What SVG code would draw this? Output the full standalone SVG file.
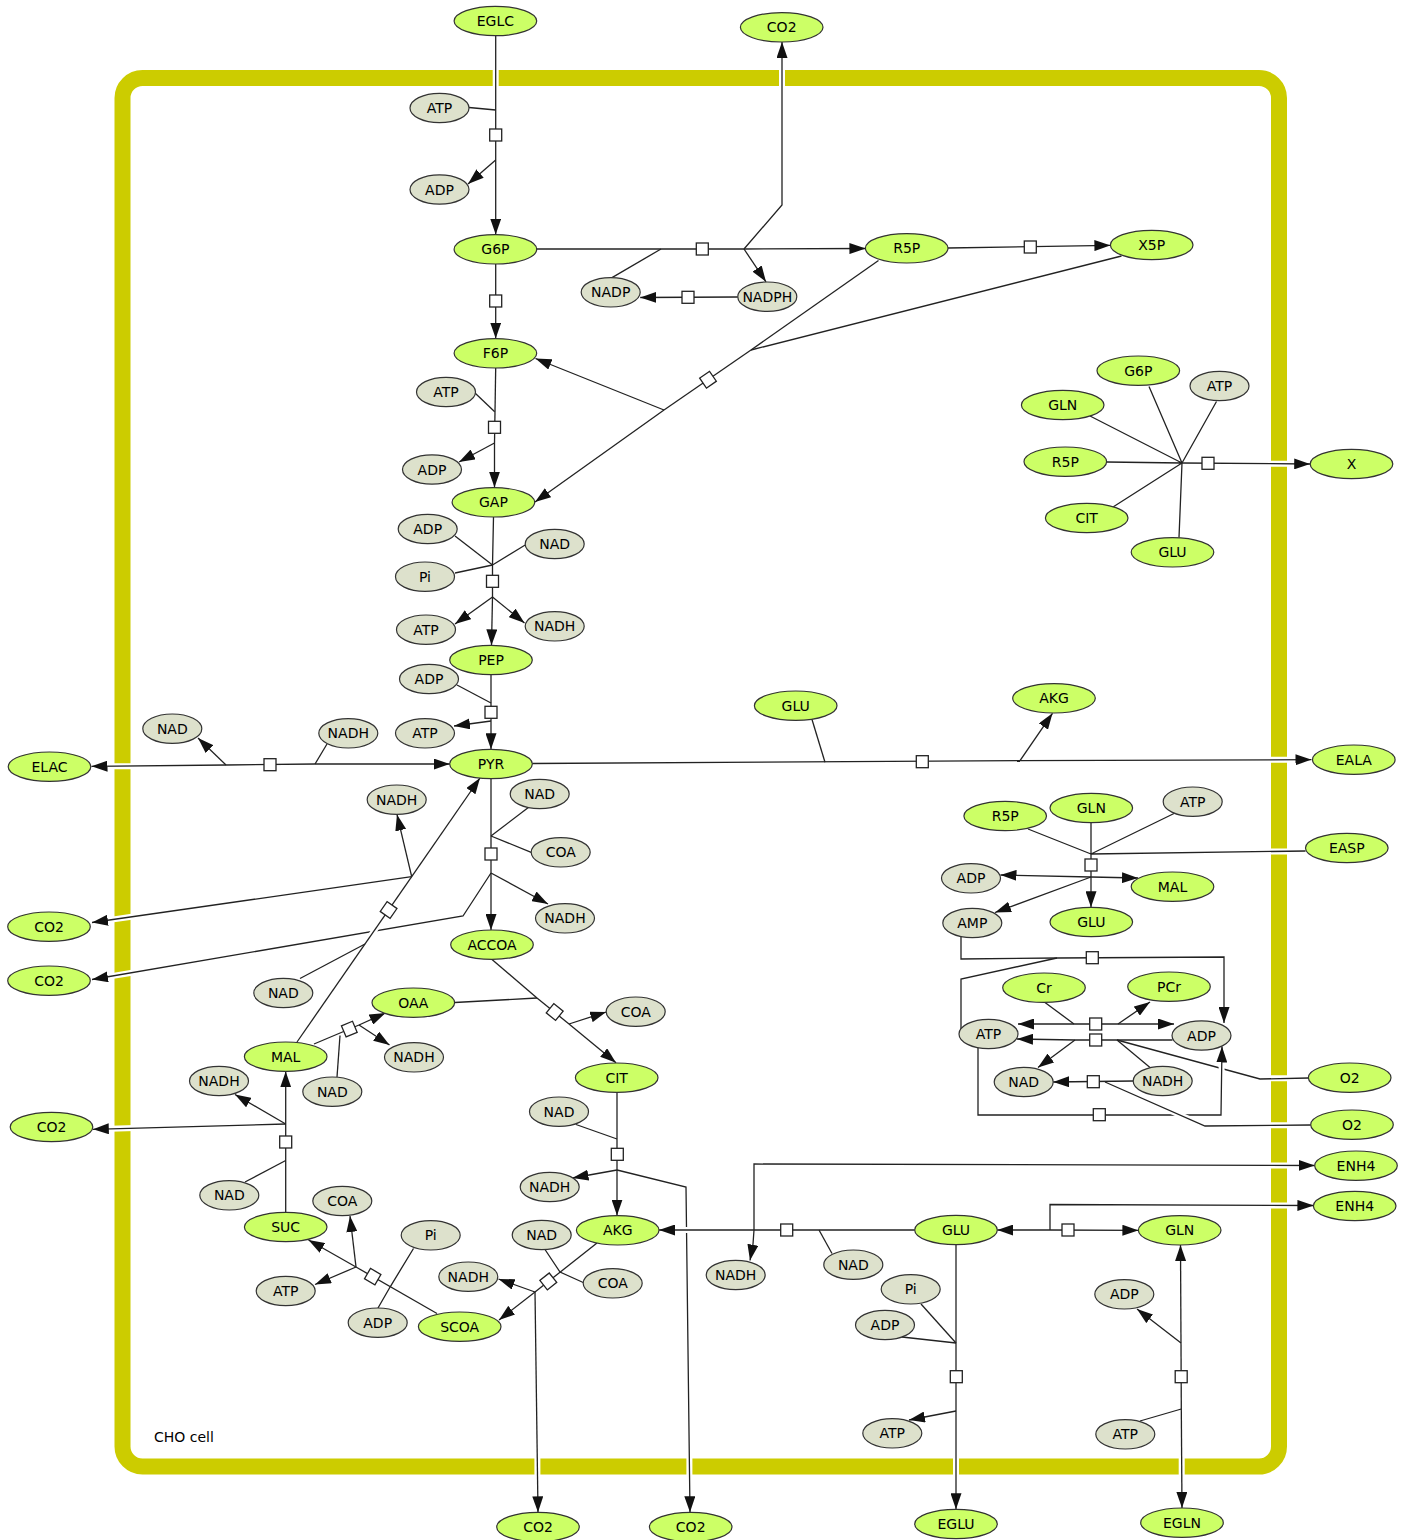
<svg xmlns="http://www.w3.org/2000/svg" width="1407" height="1540" viewBox="0 0 1407 1540">
<style>
.cmp{fill:none;stroke:#cccc00;stroke-width:16}
.e{fill:none;stroke:#222;stroke-width:1.3}
.a{marker-end:url(#arr)}
.h{fill:none;stroke:#fff;stroke-width:6}
.g ellipse{fill:#ccff66;stroke:#333;stroke-width:1.2}
.s ellipse{fill:#dde1cc;stroke:#333;stroke-width:1.2}
.pn rect{fill:#fff;stroke:#222;stroke-width:1.3}
text{font-family:"DejaVu Sans","Liberation Sans",sans-serif;font-size:14px;text-anchor:middle;fill:#000}
.lbl{text-anchor:start}
</style>
<defs>
<marker id="arr" markerUnits="userSpaceOnUse" markerWidth="16" markerHeight="11" refX="16" refY="5.5" orient="auto"><path d="M0,0 L16,5.5 L0,11 z" fill="#111"/></marker>
</defs>
<g id="compartment">
<rect class="cmp" x="122.5" y="78" width="1156.5" height="1388.5" rx="20" ry="20"/>
<text class="lbl" x="154" y="1442">CHO cell</text>
</g>
<g id="border-gaps">
<path class="h" d="M495.7,66 V90 M782,66 V90 M110,766.2 H135 M110,919.9 L135,916.3 M110,976.4 L135,972.2 M110,1128.8 L135,1128.1 M1267,463.7 H1291 M1267,759.8 H1291 M1267,851.4 H1291 M1267,1078.3 H1291 M1267,1125.3 H1291 M1267,1165.4 H1291 M1267,1205.4 H1291 M537.4,1454 V1479 M689.4,1454 V1479 M956,1454 V1479 M1181.7,1454 V1479"/>
</g>
<g id="connectors">
<!-- EGLC -> G6P -->
<path class="e" d="M495.7,35.7 V160"/>
<path class="e" d="M469,107.5 L495.7,110"/>
<path class="e a" d="M495.7,160 L468,184"/>
<path class="e a" d="M495.7,160 V234.6"/>
<!-- G6P -> F6P -->
<path class="e a" d="M495.7,264 V338.6"/>
<!-- F6P -> GAP -->
<path class="e" d="M495.7,368 L494.5,443"/>
<path class="e" d="M475,393 L494.7,411.7"/>
<path class="e a" d="M494.5,443 L459,462"/>
<path class="e a" d="M494.5,443 V487.6"/>
<!-- GAP -> PEP -->
<path class="e" d="M493.5,517 L492.5,565 V597"/>
<path class="e" d="M455,536 L492.5,565"/>
<path class="e" d="M455,573 L492.5,565"/>
<path class="e" d="M525.2,545 L492.5,565"/>
<path class="e a" d="M492.5,597 L455,624"/>
<path class="e a" d="M492.5,597 L524.5,623"/>
<path class="e a" d="M492.5,597 L491.5,645.3"/>
<!-- PEP -> PYR -->
<path class="e" d="M491,674.7 V721"/>
<path class="e" d="M457,685 L491,703"/>
<path class="e a" d="M491,721 L454,726"/>
<path class="e a" d="M491,721 V749.3"/>
<!-- PYR <-> ELAC -->
<path class="e a" d="M315,764 L449.7,764"/>
<path class="e" d="M327,744 L315,764"/>
<path class="e" d="M226,765 L315,764"/>
<path class="e a" d="M226,765 L198,738"/>
<path class="e a" d="M226,765 L91.5,766.3"/>
<!-- PYR -> EALA -->
<path class="e" d="M532.3,763.5 L1020,760.7"/>
<path class="e" d="M812,719.5 L825,762.3"/>
<path class="e a" d="M1020,760.7 L1052.5,713.3"/>
<path class="e a" d="M1020,760.7 L1311.5,759.7"/>
<!-- PYR -> ACCOA -->
<path class="e" d="M491,778.7 V873"/>
<path class="e" d="M529,807 L491,836"/>
<path class="e" d="M531.2,852.3 L491,836"/>
<path class="e a" d="M491,873 L548,904"/>
<path class="e a" d="M491,873 V930"/>
<path class="e a" d="M491,873 L463,916 L92,979.5"/>
<!-- G6P -> R5P -->
<path class="e" d="M536.7,249 L744,249"/>
<path class="e" d="M612,277.6 L661,249"/>
<path class="e a" d="M744,249 L865.4,248.5"/>
<path class="e a" d="M744,249 L766,281.8"/>
<path class="e a" d="M744,249 L782,205 L782,42"/>
<!-- NADPH -> NADP -->
<path class="e a" d="M737.8,297 L640.2,297.5"/>
<!-- R5P -> X5P -->
<path class="e a" d="M948,248 L1110.4,245.3"/>
<!-- transketolase -->
<path class="e" d="M878.5,260.5 L751,350"/>
<path class="e" d="M1121.5,256 L751,350"/>
<path class="e" d="M751,350 L664,410"/>
<path class="e a" d="M664,410 L535.5,358.5"/>
<path class="e a" d="M664,410 L535,502"/>
<!-- biomass -->
<path class="e" d="M1090,416 L1182,463 M1149,386.5 L1182,463 M1216.5,401.5 L1182,463 M1106.6,462 L1182,463 M1113,507 L1182,463 M1179,537.6 L1182,463"/>
<path class="e a" d="M1182,463 L1310.2,464"/>
<!-- GLN + R5P + ATP + EASP -->
<path class="e" d="M1028,829 L1091,854 M1091,822.7 L1091,854 M1174,813.5 L1091,854 M1305.5,851 L1091,854"/>
<path class="e" d="M1091,854 V877"/>
<path class="e a" d="M1091,877 L1000.5,875"/>
<path class="e a" d="M1091,877 L1138,878"/>
<path class="e a" d="M1091,877 V907.3"/>
<path class="e a" d="M1091,877 L995,912.5"/>
<!-- AMP + ATP -> ADP -->
<path class="e" d="M961,936.7 V959 L1057,958"/>
<path class="e" d="M961,1029 V979 L1057,958"/>
<path class="e a" d="M1057,958 L1224,957 L1224,1023"/>
<!-- Cr + ATP <-> PCr + ADP -->
<path class="e" d="M1045,1002.4 L1074,1024"/>
<path class="e" d="M1074,1024 L1118,1024"/>
<path class="e a" d="M1074,1024 L1018,1024"/>
<path class="e a" d="M1118,1024 L1174,1024"/>
<path class="e a" d="M1118,1024 L1150,1002"/>
<!-- oxidative phosphorylation -->
<path class="e" d="M1172.5,1040 L1075,1040"/>
<path class="e" d="M1150,1067.5 L1117,1040"/>
<path class="e a" d="M1075,1040 L1017,1039"/>
<path class="e a" d="M1075,1040 L1038,1067.5"/>
<path class="e" d="M1117,1040 L1260,1079 L1308.4,1078"/>
<path class="h" d="M1221.6,1058 V1080"/>
<!-- ATP -> ADP -->
<path class="e a" d="M978,1047.7 V1115 L1221,1115 L1222,1046.5"/>
<path class="h" d="M1170,1110.6 L1190,1119.4"/>
<!-- NADH -> NAD -->
<path class="e a" d="M1133.2,1081 L1053.2,1082"/>
<path class="e" d="M1105,1082 L1205,1126 L1310.7,1125"/>
<!-- GLN <-> GLU + ENH4 -->
<path class="e a" d="M1050,1230 L1138.4,1230.3"/>
<path class="e a" d="M1050,1230 L997.3,1230"/>
<path class="e a" d="M1050,1230 V1204.5 L1313.4,1205.5"/>
<!-- CIT -> AKG -->
<path class="e" d="M617,1092.4 V1170"/>
<path class="e" d="M576,1124.5 L617,1139"/>
<path class="e a" d="M617,1170 L572.5,1178"/>
<path class="e a" d="M617,1170 V1215.6"/>
<path class="e a" d="M617,1170 L686,1187 L690,1512.3"/>
<!-- GLU -> AKG -->
<path class="e" d="M914.7,1230 L754,1230"/>
<path class="e" d="M832,1253.5 L819,1230"/>
<path class="e a" d="M754,1230 L753,1244 L750,1260.5"/>
<path class="e a" d="M754,1230 V1164 L1314.7,1165.5"/>
<path class="h" d="M676,1230 H697"/>
<path class="e a" d="M754,1230 L659,1230"/>
<!-- AKG -> SCOA -->
<path class="e" d="M597,1243 L535,1292"/>
<path class="e" d="M545,1249.5 L560,1272 L583.2,1282.5"/>
<path class="e a" d="M535,1292 L498.5,1279"/>
<path class="e a" d="M535,1292 L499,1320"/>
<path class="e a" d="M535,1292 L538,1512.3"/>
<!-- SCOA -> SUC -->
<path class="e" d="M437,1313.5 L356,1267"/>
<path class="e" d="M413.5,1248.5 L390.5,1286.3 L378,1308"/>
<path class="e a" d="M356,1267 L308.5,1240"/>
<path class="e a" d="M356,1267 L350,1216"/>
<path class="e a" d="M356,1267 L315,1284.5"/>
<!-- SUC -> MAL -->
<path class="e" d="M285.7,1212.3 V1124"/>
<path class="e" d="M245,1182 L285.7,1160.5"/>
<path class="e a" d="M285.7,1124 L235,1094.5"/>
<path class="e a" d="M285.7,1124 V1071.4"/>
<path class="e a" d="M285.7,1124 L92.8,1129.3"/>
<!-- MAL -> OAA -->
<path class="e" d="M314,1044 L359,1025"/>
<path class="e" d="M337,1077 L340,1035.5"/>
<path class="e a" d="M359,1025 L385.5,1013"/>
<path class="e a" d="M359,1025 L389.5,1045"/>
<!-- ACCOA + OAA -> CIT -->
<path class="e" d="M492,959.4 L537,998"/>
<path class="e" d="M454.6,1002.5 L537,998"/>
<path class="e" d="M537,998 L569,1024"/>
<path class="e a" d="M569,1024 L606.2,1012"/>
<path class="e a" d="M569,1024 L616,1062.8"/>
<!-- GLU -> EGLU -->
<path class="e" d="M956,1244.7 V1411"/>
<path class="e" d="M921,1304 L956,1343"/>
<path class="e" d="M902,1337 L956,1343"/>
<path class="e a" d="M956,1411 L909,1420"/>
<path class="e a" d="M956,1411 V1509.3"/>
<!-- GLN <-> EGLN -->
<path class="e a" d="M1181,1343 L1180.5,1245"/>
<path class="e a" d="M1181,1343 L1137,1309"/>
<path class="e" d="M1181,1343 L1181.3,1409"/>
<path class="e" d="M1140,1421 L1181.3,1409"/>
<path class="e a" d="M1181.3,1409 L1182,1508"/>
<!-- malic enzyme -->
<path class="e" d="M300,978.5 L365,944"/>
<path class="e a" d="M411.7,876.7 L397,814.6"/>
<path class="e a" d="M411.7,876.7 L92,922.5"/>
<path class="h" d="M367.7,940.1 L380.2,922"/>
<path class="e" d="M297,1042 L411.7,876.7"/>
<path class="e a" d="M411.7,876.7 L480,778"/>
</g>
<g id="processes" class="pn">
<g id="p1"><rect x="489.7" y="129" width="12" height="12"/></g>
<g id="p2"><rect x="489.7" y="295" width="12" height="12"/></g>
<g id="p3"><rect x="488.5" y="421.3" width="12" height="12"/></g>
<g id="p4"><rect x="486.5" y="575.3" width="12" height="12"/></g>
<g id="p5"><rect x="485" y="706.3" width="12" height="12"/></g>
<g id="p6"><rect x="264" y="758.7" width="12" height="12"/></g>
<g id="p7"><rect x="916.3" y="755.7" width="12" height="12"/></g>
<g id="p8"><rect x="485" y="848" width="12" height="12"/></g>
<g id="p9"><rect x="696.3" y="243" width="12" height="12"/></g>
<g id="p10"><rect x="682" y="291.3" width="12" height="12"/></g>
<g id="p11"><rect x="1024.3" y="241" width="12" height="12"/></g>
<g id="p12"><rect x="-6" y="-6" width="12" height="12" transform="translate(708,379.7) rotate(-34.6)"/></g>
<g id="p13"><rect x="1202" y="457.3" width="12" height="12"/></g>
<g id="p14"><rect x="1085" y="859" width="12" height="12"/></g>
<g id="p15"><rect x="1086.3" y="951.7" width="12" height="12"/></g>
<g id="p16"><rect x="1089.7" y="1018" width="12" height="12"/></g>
<g id="p17"><rect x="1089.7" y="1034" width="12" height="12"/></g>
<g id="p18"><rect x="1087.3" y="1075.7" width="12" height="12"/></g>
<g id="p19"><rect x="1093.3" y="1108.7" width="12" height="12"/></g>
<g id="p20"><rect x="1062" y="1224" width="12" height="12"/></g>
<g id="p21"><rect x="780.7" y="1224" width="12" height="12"/></g>
<g id="p22"><rect x="611.3" y="1148.3" width="12" height="12"/></g>
<g id="p23"><rect x="-6" y="-6" width="12" height="12" transform="translate(548.3,1281.4) rotate(-38.7)"/></g>
<g id="p24"><rect x="-6" y="-6" width="12" height="12" transform="translate(372.7,1276.6) rotate(29.9)"/></g>
<g id="p25"><rect x="279.7" y="1136" width="12" height="12"/></g>
<g id="p26"><rect x="-6" y="-6" width="12" height="12" transform="translate(349.3,1029.1) rotate(-22.9)"/></g>
<g id="p27"><rect x="-6" y="-6" width="12" height="12" transform="translate(388.6,910) rotate(-55.2)"/></g>
<g id="p28"><rect x="-6" y="-6" width="12" height="12" transform="translate(554.7,1012) rotate(39.1)"/></g>
<g id="p29"><rect x="950.3" y="1370.7" width="12" height="12"/></g>
<g id="p30"><rect x="1175.2" y="1370.7" width="12" height="12"/></g>
</g>
<g id="nodes">
<g id="EGLC" class="g"><ellipse cx="495.4" cy="21" rx="41.3" ry="14.7"/><text x="495.4" y="26">EGLC</text></g>
<g id="CO2_top" class="g"><ellipse cx="781.7" cy="27.3" rx="41.3" ry="14.7"/><text x="781.7" y="32.3">CO2</text></g>
<g id="ATP_1" class="s"><ellipse cx="439.5" cy="108" rx="29.5" ry="14.7"/><text x="439.5" y="113">ATP</text></g>
<g id="ADP_1" class="s"><ellipse cx="439.5" cy="189.5" rx="29.5" ry="14.7"/><text x="439.5" y="194.5">ADP</text></g>
<g id="G6P" class="g"><ellipse cx="495.4" cy="249.3" rx="41.3" ry="14.7"/><text x="495.4" y="254.3">G6P</text></g>
<g id="NADP" class="s"><ellipse cx="610.7" cy="292.3" rx="29.5" ry="14.7"/><text x="610.7" y="297.3">NADP</text></g>
<g id="NADPH" class="s"><ellipse cx="767.3" cy="296.7" rx="29.5" ry="14.7"/><text x="767.3" y="301.7">NADPH</text></g>
<g id="R5P" class="g"><ellipse cx="906.7" cy="248.3" rx="41.3" ry="14.7"/><text x="906.7" y="253.3">R5P</text></g>
<g id="X5P" class="g"><ellipse cx="1151.7" cy="245" rx="41.3" ry="14.7"/><text x="1151.7" y="250">X5P</text></g>
<g id="F6P" class="g"><ellipse cx="495.4" cy="353.3" rx="41.3" ry="14.7"/><text x="495.4" y="358.3">F6P</text></g>
<g id="ATP_2" class="s"><ellipse cx="446" cy="392" rx="29.5" ry="14.7"/><text x="446" y="397">ATP</text></g>
<g id="ADP_2" class="s"><ellipse cx="432" cy="469.5" rx="29.5" ry="14.7"/><text x="432" y="474.5">ADP</text></g>
<g id="GAP" class="g"><ellipse cx="493.4" cy="502.3" rx="41.3" ry="14.7"/><text x="493.4" y="507.3">GAP</text></g>
<g id="ADP_3" class="s"><ellipse cx="427.7" cy="529" rx="29.5" ry="14.7"/><text x="427.7" y="534">ADP</text></g>
<g id="NAD_1" class="s"><ellipse cx="554.7" cy="544" rx="29.5" ry="14.7"/><text x="554.7" y="549">NAD</text></g>
<g id="Pi_1" class="s"><ellipse cx="425" cy="576.7" rx="29.5" ry="14.7"/><text x="425" y="581.7">Pi</text></g>
<g id="ATP_3" class="s"><ellipse cx="426" cy="629.7" rx="29.5" ry="14.7"/><text x="426" y="634.7">ATP</text></g>
<g id="NADH_1" class="s"><ellipse cx="554.7" cy="626.3" rx="29.5" ry="14.7"/><text x="554.7" y="631.3">NADH</text></g>
<g id="PEP" class="g"><ellipse cx="491" cy="660" rx="41.3" ry="14.7"/><text x="491" y="665">PEP</text></g>
<g id="ADP_4" class="s"><ellipse cx="429" cy="679" rx="29.5" ry="14.7"/><text x="429" y="684">ADP</text></g>
<g id="ATP_4" class="s"><ellipse cx="425" cy="733.3" rx="29.5" ry="14.7"/><text x="425" y="738.3">ATP</text></g>
<g id="PYR" class="g"><ellipse cx="491" cy="764" rx="41.3" ry="14.7"/><text x="491" y="769">PYR</text></g>
<g id="NAD_2" class="s"><ellipse cx="172.3" cy="728.7" rx="29.5" ry="14.7"/><text x="172.3" y="733.7">NAD</text></g>
<g id="NADH_2" class="s"><ellipse cx="348.3" cy="733.3" rx="29.5" ry="14.7"/><text x="348.3" y="738.3">NADH</text></g>
<g id="ELAC" class="g"><ellipse cx="49.5" cy="766.7" rx="41.3" ry="14.7"/><text x="49.5" y="771.7">ELAC</text></g>
<g id="GLU_1" class="g"><ellipse cx="795.7" cy="705.7" rx="41.3" ry="14.7"/><text x="795.7" y="710.7">GLU</text></g>
<g id="AKG_1" class="g"><ellipse cx="1054" cy="698.3" rx="41.3" ry="14.7"/><text x="1054" y="703.3">AKG</text></g>
<g id="EALA" class="g"><ellipse cx="1353.8" cy="759.7" rx="41.3" ry="14.7"/><text x="1353.8" y="764.7">EALA</text></g>
<g id="NADH_3" class="s"><ellipse cx="396.7" cy="799.7" rx="29.5" ry="14.7"/><text x="396.7" y="804.7">NADH</text></g>
<g id="NAD_3" class="s"><ellipse cx="539.7" cy="794" rx="29.5" ry="14.7"/><text x="539.7" y="799">NAD</text></g>
<g id="COA_1" class="s"><ellipse cx="560.7" cy="852.3" rx="29.5" ry="14.7"/><text x="560.7" y="857.3">COA</text></g>
<g id="CO2_l1" class="g"><ellipse cx="49" cy="926.7" rx="41.3" ry="14.7"/><text x="49" y="931.7">CO2</text></g>
<g id="CO2_l2" class="g"><ellipse cx="49" cy="980.7" rx="41.3" ry="14.7"/><text x="49" y="985.7">CO2</text></g>
<g id="NADH_4" class="s"><ellipse cx="565" cy="918.3" rx="29.5" ry="14.7"/><text x="565" y="923.3">NADH</text></g>
<g id="ACCOA" class="g"><ellipse cx="492" cy="944.7" rx="41.3" ry="14.7"/><text x="492" y="949.7">ACCOA</text></g>
<g id="NAD_4" class="s"><ellipse cx="283.3" cy="993" rx="29.5" ry="14.7"/><text x="283.3" y="998">NAD</text></g>
<g id="OAA" class="g"><ellipse cx="413.3" cy="1002.7" rx="41.3" ry="14.7"/><text x="413.3" y="1007.7">OAA</text></g>
<g id="COA_2" class="s"><ellipse cx="635.7" cy="1011.7" rx="29.5" ry="14.7"/><text x="635.7" y="1016.7">COA</text></g>
<g id="MAL_1" class="g"><ellipse cx="285.7" cy="1056.7" rx="41.3" ry="14.7"/><text x="285.7" y="1061.7">MAL</text></g>
<g id="NADH_5" class="s"><ellipse cx="414" cy="1057.3" rx="29.5" ry="14.7"/><text x="414" y="1062.3">NADH</text></g>
<g id="NAD_5" class="s"><ellipse cx="332.3" cy="1091.7" rx="29.5" ry="14.7"/><text x="332.3" y="1096.7">NAD</text></g>
<g id="CIT_1" class="g"><ellipse cx="616.7" cy="1077.7" rx="41.3" ry="14.7"/><text x="616.7" y="1082.7">CIT</text></g>
<g id="NADH_6" class="s"><ellipse cx="219" cy="1081" rx="29.5" ry="14.7"/><text x="219" y="1086">NADH</text></g>
<g id="CO2_l3" class="g"><ellipse cx="51.5" cy="1127" rx="41.3" ry="14.7"/><text x="51.5" y="1132">CO2</text></g>
<g id="NAD_6" class="s"><ellipse cx="559" cy="1111.7" rx="29.5" ry="14.7"/><text x="559" y="1116.7">NAD</text></g>
<g id="NADH_7" class="s"><ellipse cx="549.7" cy="1187" rx="29.5" ry="14.7"/><text x="549.7" y="1192">NADH</text></g>
<g id="NAD_7" class="s"><ellipse cx="229.3" cy="1195.3" rx="29.5" ry="14.7"/><text x="229.3" y="1200.3">NAD</text></g>
<g id="COA_3" class="s"><ellipse cx="342.3" cy="1201" rx="29.5" ry="14.7"/><text x="342.3" y="1206">COA</text></g>
<g id="SUC" class="g"><ellipse cx="285.7" cy="1227" rx="41.3" ry="14.7"/><text x="285.7" y="1232">SUC</text></g>
<g id="Pi_2" class="s"><ellipse cx="430.7" cy="1235.3" rx="29.5" ry="14.7"/><text x="430.7" y="1240.3">Pi</text></g>
<g id="NAD_8" class="s"><ellipse cx="541.7" cy="1235" rx="29.5" ry="14.7"/><text x="541.7" y="1240">NAD</text></g>
<g id="AKG_2" class="g"><ellipse cx="617.7" cy="1230.3" rx="41.3" ry="14.7"/><text x="617.7" y="1235.3">AKG</text></g>
<g id="NADH_8" class="s"><ellipse cx="468.3" cy="1276.7" rx="29.5" ry="14.7"/><text x="468.3" y="1281.7">NADH</text></g>
<g id="COA_4" class="s"><ellipse cx="612.7" cy="1283.3" rx="29.5" ry="14.7"/><text x="612.7" y="1288.3">COA</text></g>
<g id="ATP_5" class="s"><ellipse cx="285.7" cy="1291" rx="29.5" ry="14.7"/><text x="285.7" y="1296">ATP</text></g>
<g id="ADP_5" class="s"><ellipse cx="377.7" cy="1322.7" rx="29.5" ry="14.7"/><text x="377.7" y="1327.7">ADP</text></g>
<g id="SCOA" class="g"><ellipse cx="459.7" cy="1326.7" rx="41.3" ry="14.7"/><text x="459.7" y="1331.7">SCOA</text></g>
<g id="NADH_9" class="s"><ellipse cx="735.7" cy="1275" rx="29.5" ry="14.7"/><text x="735.7" y="1280">NADH</text></g>
<g id="NAD_9" class="s"><ellipse cx="853.3" cy="1264.7" rx="29.5" ry="14.7"/><text x="853.3" y="1269.7">NAD</text></g>
<g id="GLU_2" class="g"><ellipse cx="956" cy="1230" rx="41.3" ry="14.7"/><text x="956" y="1235">GLU</text></g>
<g id="GLN_1" class="g"><ellipse cx="1179.7" cy="1230.3" rx="41.3" ry="14.7"/><text x="1179.7" y="1235.3">GLN</text></g>
<g id="Pi_3" class="s"><ellipse cx="910.7" cy="1289.3" rx="29.5" ry="14.7"/><text x="910.7" y="1294.3">Pi</text></g>
<g id="ADP_6" class="s"><ellipse cx="885" cy="1325" rx="29.5" ry="14.7"/><text x="885" y="1330">ADP</text></g>
<g id="ADP_7" class="s"><ellipse cx="1124.3" cy="1294.3" rx="29.5" ry="14.7"/><text x="1124.3" y="1299.3">ADP</text></g>
<g id="ATP_6" class="s"><ellipse cx="892.3" cy="1433.3" rx="29.5" ry="14.7"/><text x="892.3" y="1438.3">ATP</text></g>
<g id="ATP_7" class="s"><ellipse cx="1125.3" cy="1434.3" rx="29.5" ry="14.7"/><text x="1125.3" y="1439.3">ATP</text></g>
<g id="CO2_b1" class="g"><ellipse cx="538" cy="1527" rx="41.3" ry="14.7"/><text x="538" y="1532">CO2</text></g>
<g id="CO2_b2" class="g"><ellipse cx="690.7" cy="1527" rx="41.3" ry="14.7"/><text x="690.7" y="1532">CO2</text></g>
<g id="EGLU" class="g"><ellipse cx="956" cy="1524" rx="41.3" ry="14.7"/><text x="956" y="1529">EGLU</text></g>
<g id="EGLN" class="g"><ellipse cx="1182" cy="1522.7" rx="41.3" ry="14.7"/><text x="1182" y="1527.7">EGLN</text></g>
<g id="ENH4_1" class="g"><ellipse cx="1356" cy="1165.7" rx="41.3" ry="14.7"/><text x="1356" y="1170.7">ENH4</text></g>
<g id="ENH4_2" class="g"><ellipse cx="1354.7" cy="1206" rx="41.3" ry="14.7"/><text x="1354.7" y="1211">ENH4</text></g>
<g id="O2_1" class="g"><ellipse cx="1349.7" cy="1077.7" rx="41.3" ry="14.7"/><text x="1349.7" y="1082.7">O2</text></g>
<g id="O2_2" class="g"><ellipse cx="1352" cy="1124.7" rx="41.3" ry="14.7"/><text x="1352" y="1129.7">O2</text></g>
<g id="G6P_2" class="g"><ellipse cx="1138.3" cy="370.7" rx="41.3" ry="14.7"/><text x="1138.3" y="375.7">G6P</text></g>
<g id="ATP_8" class="s"><ellipse cx="1219.5" cy="386" rx="29.5" ry="14.7"/><text x="1219.5" y="391">ATP</text></g>
<g id="GLN_2" class="g"><ellipse cx="1062.7" cy="405" rx="41.3" ry="14.7"/><text x="1062.7" y="410">GLN</text></g>
<g id="R5P_2" class="g"><ellipse cx="1065.3" cy="461.7" rx="41.3" ry="14.7"/><text x="1065.3" y="466.7">R5P</text></g>
<g id="X" class="g"><ellipse cx="1351.5" cy="464" rx="41.3" ry="14.7"/><text x="1351.5" y="469">X</text></g>
<g id="CIT_2" class="g"><ellipse cx="1086.7" cy="518" rx="41.3" ry="14.7"/><text x="1086.7" y="523">CIT</text></g>
<g id="GLU_3" class="g"><ellipse cx="1172.5" cy="552.3" rx="41.3" ry="14.7"/><text x="1172.5" y="557.3">GLU</text></g>
<g id="R5P_3" class="g"><ellipse cx="1005.2" cy="816" rx="41.3" ry="14.7"/><text x="1005.2" y="821">R5P</text></g>
<g id="GLN_3" class="g"><ellipse cx="1091.3" cy="808" rx="41.3" ry="14.7"/><text x="1091.3" y="813">GLN</text></g>
<g id="ATP_9" class="s"><ellipse cx="1192.7" cy="801.7" rx="29.5" ry="14.7"/><text x="1192.7" y="806.7">ATP</text></g>
<g id="EASP" class="g"><ellipse cx="1346.8" cy="848" rx="41.3" ry="14.7"/><text x="1346.8" y="853">EASP</text></g>
<g id="ADP_8" class="s"><ellipse cx="971" cy="878.3" rx="29.5" ry="14.7"/><text x="971" y="883.3">ADP</text></g>
<g id="MAL_2" class="g"><ellipse cx="1172.5" cy="886.7" rx="41.3" ry="14.7"/><text x="1172.5" y="891.7">MAL</text></g>
<g id="AMP" class="s"><ellipse cx="972.3" cy="923" rx="29.5" ry="14.7"/><text x="972.3" y="928">AMP</text></g>
<g id="GLU_4" class="g"><ellipse cx="1091.3" cy="922" rx="41.3" ry="14.7"/><text x="1091.3" y="927">GLU</text></g>
<g id="Cr" class="g"><ellipse cx="1044" cy="987.7" rx="41.3" ry="14.7"/><text x="1044" y="992.7">Cr</text></g>
<g id="PCr" class="g"><ellipse cx="1169" cy="986.7" rx="41.3" ry="14.7"/><text x="1169" y="991.7">PCr</text></g>
<g id="ATP_10" class="s"><ellipse cx="988.5" cy="1034" rx="29.5" ry="14.7"/><text x="988.5" y="1039">ATP</text></g>
<g id="ADP_9" class="s"><ellipse cx="1201.5" cy="1035.5" rx="29.5" ry="14.7"/><text x="1201.5" y="1040.5">ADP</text></g>
<g id="NAD_10" class="s"><ellipse cx="1023.7" cy="1082" rx="29.5" ry="14.7"/><text x="1023.7" y="1087">NAD</text></g>
<g id="NADH_10" class="s"><ellipse cx="1162.7" cy="1081" rx="29.5" ry="14.7"/><text x="1162.7" y="1086">NADH</text></g>
</g>
</svg>
